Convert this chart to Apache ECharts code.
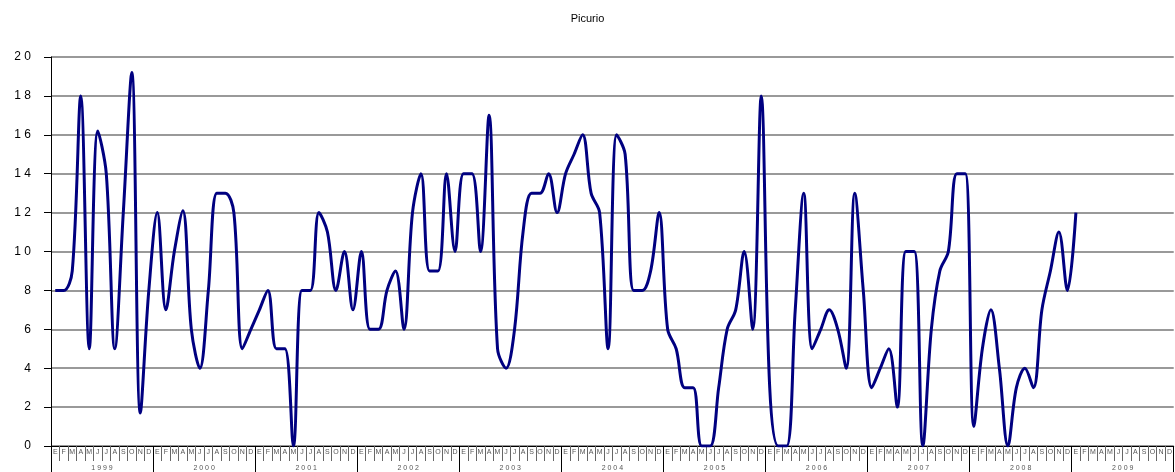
<!DOCTYPE html>
<html>
<head>
<meta charset="utf-8">
<script src="https://cdn.jsdelivr.net/npm/echarts@6/dist/echarts.min.js"></script>
<style>
  html, body { margin: 0; padding: 0; background: #fff; }
  #chart { width: 1175px; height: 472px; }
</style>
</head>
<body>
<div id="chart"></div>
<script>
const years = ['1999', '2000', '2001', '2002', '2003', '2004', '2005', '2006', '2007', '2008', '2009']
const monthLetters = ['E', 'F', 'M', 'A', 'M', 'J', 'J', 'A', 'S', 'O', 'N', 'D']

// valores mensuales
const v1999 = [8, 8, 9, 18, 5, 16.2, 14, 5, 12, 19.2, 1.7, 8]
const v2000 = [12, 7, 10, 12.1, 6, 4, 8, 13, 13, 12, 5, 6]
const v2001 = [7, 8, 5, 5, 0, 8, 8, 12, 11, 8, 10, 7]
const v2002 = [10, 6, 6, 8, 9, 6, 12, 14, 9, 9, 14, 10]
const v2003 = [14, 14, 10, 17, 5, 4, 6, 11, 13, 13, 14, 12]
const v2004 = [14, 15, 16, 13, 12, 5, 16, 15, 8, 8, 9, 12]
const v2005 = [6, 5, 3, 3, 0, 0, 3, 6, 7, 10, 6, 18]
const v2006 = [3, 0, 0, 7, 13, 5, 6, 7, 6, 4, 13, 8]
const v2007 = [3, 4, 5, 2, 10, 10, 0, 6, 9, 10, 14, 14]
const v2008 = [1, 5, 7, 4, 0, 3, 4, 3, 7, 9, 11, 8]
const v2009 = [12, null, null, null, null, null, null, null, null, null, null, null]

const yTicks = [0, 2, 4, 6, 8, 10, 12, 14, 16, 18, 20]

const months = []
years.forEach(() => monthLetters.forEach(m => months.push(m)))
const values = [].concat(v1999, v2000, v2001, v2002, v2003, v2004, v2005, v2006, v2007, v2008, v2009)

const spaced = s => String(s).split('').join(' ')

const chart = echarts.init(document.getElementById('chart'))
chart.setOption({
  animation: false,
  title: {
    text: 'Picurio',
    left: 'center',
    top: 8,
    textStyle: { fontFamily: 'Liberation Sans', fontSize: 11, fontWeight: 'normal', color: '#000' }
  },
  grid: { left: 51, right: 0, top: 57, bottom: 26 },
  xAxis: [
    {
      type: 'category',
      data: months,
      boundaryGap: true,
      axisLine: { lineStyle: { color: '#000', width: 1 } },
      axisTick: { show: true, interval: 0, length: 15, lineStyle: { color: '#666' } },
      axisLabel: { interval: 0, margin: 3, fontSize: 7, fontFamily: 'Liberation Sans', color: '#555' },
      splitLine: { show: false }
    },
    {
      type: 'category',
      data: years,
      position: 'bottom',
      boundaryGap: true,
      axisLine: { show: false },
      axisTick: { show: true, interval: 0, length: 30, lineStyle: { color: '#000' } },
      axisLabel: { interval: 0, margin: 19, fontSize: 7, fontFamily: 'Liberation Sans', color: '#555', formatter: spaced },
      splitLine: { show: false }
    }
  ],
  yAxis: {
    type: 'value',
    min: 0,
    max: 20,
    interval: 2,
    axisLine: { show: true, lineStyle: { color: '#000' } },
    axisTick: { show: true, length: 7, lineStyle: { color: '#000' } },
    axisLabel: {
      margin: 20,
      fontSize: 12,
      fontFamily: 'Liberation Sans',
      color: '#000',
      formatter: v => yTicks.indexOf(v) >= 0 ? spaced(v) : ''
    },
    splitLine: { show: true, lineStyle: { color: '#777', width: 1.5 } }
  },
  series: [
    {
      name: 'Picurio',
      type: 'line',
      xAxisIndex: 0,
      data: values,
      smooth: 0.35,
      symbol: 'none',
      connectNulls: false,
      lineStyle: { color: '#000080', width: 3 }
    }
  ]
})
</script>
</body>
</html>
